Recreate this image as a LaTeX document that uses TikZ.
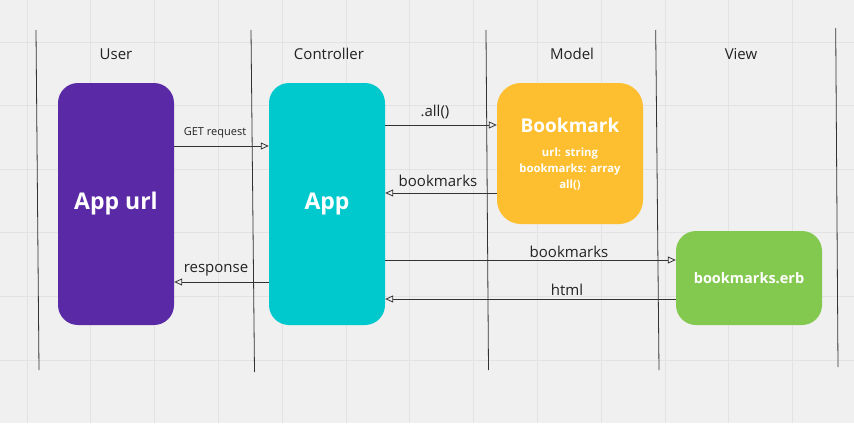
\documentclass[tikz,border=0pt]{standalone}
\usepackage{fontspec}
\setmainfont{Open Sans}
\usetikzlibrary{arrows.meta}
\definecolor{bg}{HTML}{F0F0F0}
\definecolor{gridc}{HTML}{E3E3E3}
\definecolor{linec}{HTML}{333333}
\definecolor{purplebox}{HTML}{5A2AA6}
\definecolor{cyanbox}{HTML}{00C9CE}
\definecolor{yellowbox}{HTML}{FDBF30}
\definecolor{greenbox}{HTML}{84C94F}
\definecolor{txt}{HTML}{222222}
\tikzset{
  lifeline/.style={draw=linec, line width=0.8pt},
  box/.style={rounded corners=20pt, inner sep=0pt, text=white, font=\bfseries},
  msg/.style={draw=linec, line width=0.8pt, -{Triangle[open, length=8pt, width=7pt]}},
  lbl/.style={text=txt, font=\fontsize{15}{17}\selectfont, inner sep=0pt},
  head/.style={text=txt, font=\fontsize{15}{17}\selectfont, inner sep=0pt},
}
\begin{document}
\begin{tikzpicture}[x=1pt,y=-1pt]
\useasboundingbox (0,0) rectangle (854,423);
\fill[bg] (0,0) rectangle (854,423);
% grid
\foreach \gx in {27,90.8,154.6,218.4,282.2,346,409.8,473.6,537.4,601.2,665,728.8,792.6}
  \draw[gridc, line width=0.8pt] (\gx,0) -- (\gx,423);
\foreach \gy in {42,105.6,169.2,232.8,296.4,360}
  \draw[gridc, line width=0.8pt] (0,\gy) -- (854,\gy);
% lifelines
\draw[lifeline] (36,30) -- (39,370);
\draw[lifeline] (251,30) -- (254.5,372);
\draw[lifeline] (486,30) -- (488.5,370);
\draw[lifeline] (655.7,30) -- (659,370);
\draw[lifeline] (835.7,28) -- (838,367);
% headers
\node[head] (huser) at (116,54) {User};
\node[head] (hctrl) at (329,54) {Controller};
\node[head] (hmodel) at (572,54) {Model};
\node[head] (hview) at (741,54) {View};
% boxes
\node[box, fill=purplebox, minimum width=116pt, minimum height=242pt, font=\bfseries\fontsize{23}{28}\selectfont] (appurl) at (116,204) {App url};
\node[box, fill=cyanbox, minimum width=116pt, minimum height=242pt, font=\bfseries\fontsize{23}{28}\selectfont] (app) at (327,204) {App};
\node[box, fill=yellowbox, minimum width=146pt, minimum height=141pt, rounded corners=24pt] (bookmark) at (570,153.5) {};
\node[text=white, font=\bfseries\fontsize{19}{22}\selectfont, inner sep=0pt] (bmtitle) at (570,125) {Bookmark};
\node[text=white, font=\bfseries\fontsize{11.3}{16}\selectfont, align=center, inner sep=0pt] (bmattr) at (570,169) {url: string\\bookmarks: array\\all()};
\node[box, fill=greenbox, minimum width=146pt, minimum height=94pt, font=\bfseries\fontsize{14.5}{17}\selectfont] (erb) at (749,278) {bookmarks.erb};
% messages
\draw[msg] (appurl.east |- 0,146) -- (app.west |- 0,146);
\node[lbl, font=\fontsize{11}{13}\selectfont] (lget) at (215,133) {GET request};
\draw[msg] (app.east |- 0,125) -- (bookmark.west |- 0,125);
\node[lbl] (lall) at (435,112) {.all()};
\draw[msg] (bookmark.west |- 0,193) -- (app.east |- 0,193);
\node[lbl] (lbm1) at (438,181) {bookmarks};
\draw[msg] (app.east |- 0,260) -- (erb.west |- 0,260);
\node[lbl] (lbm2) at (569,252) {bookmarks};
\draw[msg] (erb.west |- 0,299) -- (app.east |- 0,299);
\node[lbl] (lhtml) at (567,290) {html};
\draw[msg] (app.west |- 0,282) -- (appurl.east |- 0,282);
\node[lbl] (lresp) at (216,270) {response};
\end{tikzpicture}
\end{document}
